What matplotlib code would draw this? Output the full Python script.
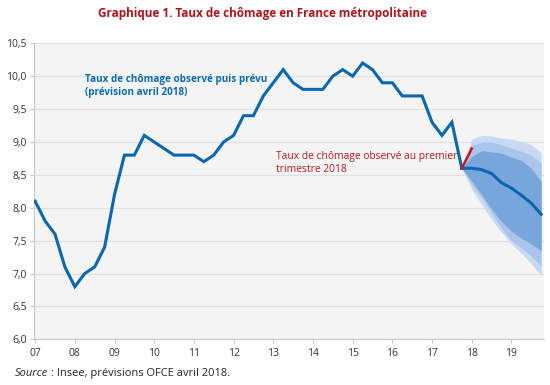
import matplotlib
matplotlib.use("Agg")
import matplotlib.pyplot as plt
import numpy as np
from matplotlib.ticker import FuncFormatter

plt.rcParams['font.family'] = ['Open Sans', 'DejaVu Sans']

# Observed quarterly unemployment rate, 2007Q1 .. 2017Q4
obs_start = 2007.0
observed = [8.1, 7.8, 7.6, 7.1, 6.8, 7.0, 7.1, 7.4, 8.2, 8.8, 8.8, 9.1,
            9.0, 8.9, 8.8, 8.8, 8.8, 8.7, 8.8, 9.0, 9.1, 9.4, 9.4, 9.7,
            9.9, 10.1, 9.9, 9.8, 9.8, 9.8, 10.0, 10.1, 10.0, 10.2, 10.1, 9.9,
            9.9, 9.7, 9.7, 9.7, 9.3, 9.1, 9.3, 8.6]

# Forecast (2017Q4 .. 2019Q4)
fc_start = 2017.75
forecast = [8.6, 8.6, 8.58, 8.52, 8.38, 8.3, 8.19, 8.07, 7.9]
outer_top = [8.6, 9.04, 9.10, 9.09, 9.06, 9.04, 9.01, 8.96, 8.84]
outer_bot = [8.6, 8.28, 8.05, 7.82, 7.63, 7.45, 7.31, 7.15, 6.97]
mid_top = [8.6, 8.95, 9.00, 9.00, 8.96, 8.91, 8.86, 8.80, 8.68]
mid_bot = [8.6, 8.35, 8.15, 7.92, 7.69, 7.50, 7.39, 7.26, 7.11]
inn_top = [8.6, 8.78, 8.87, 8.85, 8.83, 8.77, 8.72, 8.60, 8.40]
inn_bot = [8.6, 8.41, 8.20, 7.98, 7.79, 7.64, 7.54, 7.45, 7.35]

# First quarter 2018 observed
q1_x = [2017.75, 2018.0]
q1_y = [8.6, 8.9]

year_ticks = list(range(2007, 2020))
year_labels = ['07', '08', '09', '10', '11', '12', '13', '14', '15', '16', '17', '18', '19']
y_ticks = [6.0, 6.5, 7.0, 7.5, 8.0, 8.5, 9.0, 9.5, 10.0, 10.5]

t_obs = obs_start + 0.25 * np.arange(len(observed))
t_fc = fc_start + 0.25 * np.arange(len(forecast))

fig = plt.figure(figsize=(5.5, 3.85), dpi=100)
ax = fig.add_axes([0.061, 0.1187, 0.928, 0.7688])
ax.set_facecolor('#f4f4f4')

ax.fill_between(t_fc, outer_bot, outer_top, color='#c8daf1', lw=0, zorder=2)
ax.fill_between(t_fc, mid_bot, mid_top, color='#a9c5ea', lw=0, zorder=3)
ax.fill_between(t_fc, inn_bot, inn_top, color='#78a5dc', lw=0, zorder=4)

ax.plot(t_obs, observed, color='#0867b0', lw=2.2, zorder=5, solid_joinstyle='miter')
ax.plot(t_fc, forecast, color='#0867b0', lw=2.2, zorder=5)
ax.plot(q1_x, q1_y, color='#c8161d', lw=1.8, zorder=6)

ax.set_xlim(2006.96, 2019.82)
ax.set_ylim(6.0, 10.5)
ax.set_yticks(y_ticks)
ax.yaxis.set_major_formatter(FuncFormatter(lambda v, p: f"{v:.1f}".replace('.', ',')))
ax.set_xticks(year_ticks)
ax.set_xticklabels(year_labels)
ax.grid(axis='y', color='#e0e0e0', lw=0.8, zorder=1)
ax.set_axisbelow(True)
for s in ['top', 'right']:
    ax.spines[s].set_visible(False)
for s in ['left', 'bottom']:
    ax.spines[s].set_color('#c8c8c8')
    ax.spines[s].set_linewidth(0.8)
ax.tick_params(axis='both', colors='#c8c8c8', length=3, width=0.8, labelcolor='#333333', labelsize=7.5)
ax.tick_params(axis='x', pad=3)
ax.tick_params(axis='y', pad=2)

fig.text(263 / 550, 1 - 14 / 385, 'Graphique 1. Taux de chômage en France métropolitaine',
         ha='center', va='center', color='#b0141c', fontsize=8.5, fontweight='bold')

ax.text(85 / 550, 1 - 86 / 385, 'Taux de chômage observé puis prévu\n(prévision avril 2018)',
        transform=fig.transFigure, ha='left', va='center', color='#0a6bb5',
        fontsize=7.1, fontweight='bold', linespacing=1.3)
ax.text(276 / 550, 1 - 163 / 385, 'Taux de chômage observé au premier\ntrimestre 2018',
        transform=fig.transFigure, ha='left', va='center', color='#c0161e',
        fontsize=7.4, linespacing=1.25)

src_y = 1 - 376 / 385
src1 = fig.text(15 / 550, src_y, 'Source', style='italic', ha='left', va='baseline',
                fontsize=8, color='#222222')
renderer = fig.canvas.get_renderer()
bb = src1.get_window_extent(renderer=renderer)
x_next = bb.x1 / fig.bbox.width
fig.text(x_next, src_y, '\u00a0: Insee, prévisions OFCE avril 2018.', ha='left', va='baseline',
         fontsize=8, color='#222222')

fig.savefig('out.png', dpi=100)
